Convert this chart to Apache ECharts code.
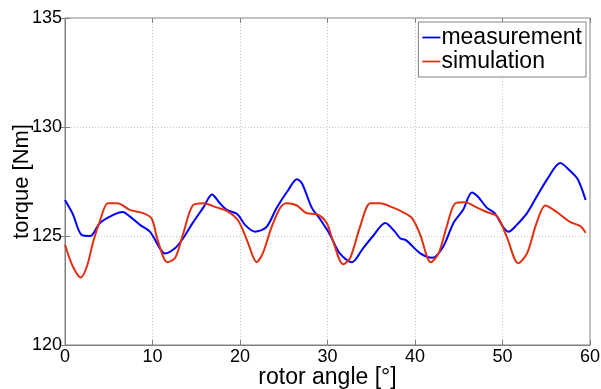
<!DOCTYPE html>
<html>
<head>
<meta charset="utf-8">
<script src="https://cdn.jsdelivr.net/npm/echarts@6/dist/echarts.min.js"></script>
<style>
  html, body {margin: 0; padding: 0; background: #fff;}
  #chart {width: 601px; height: 389px;}
</style>
</head>
<body>
<div id="chart"></div>
<script>
// rotor angle [deg] and torque [Nm]
const measAngle = [0, 0.9, 1.9, 2.9, 4, 5.7, 6.6, 7.4, 8.6, 9.7, 10.9, 11.4, 12.6, 13.5, 14.6, 15.8, 16.8, 17.7, 18.5, 19.7,
  20.6, 21.7, 23, 24.2, 25.5, 26.5, 27.1, 28.2, 29.1, 30.3, 31.4, 32.8, 34, 35.2, 36.6, 37.7, 38.3, 39, 40.6, 42,
  43.2, 44.4, 45.5, 46.5, 47.2, 48.2, 49.1, 50.1, 50.7, 51.6, 52.8, 53.9, 55.1, 56.6, 57.7, 58.6, 59.5];
const measTorque = [126.65, 126.0, 125.05, 125.0, 125.6, 126.0, 126.1, 125.9, 125.5, 125.2, 124.4, 124.2, 124.45, 124.9, 125.6, 126.3, 126.9, 126.5, 126.2, 126.0,
  125.5, 125.2, 125.4, 126.3, 127.1, 127.6, 127.4, 126.3, 125.8, 125.05, 124.2, 123.8, 124.4, 125.0, 125.6, 125.2, 124.9, 124.8, 124.2, 124.0,
  124.5, 125.6, 126.2, 127.0, 126.8, 126.3, 126.05, 125.4, 125.2, 125.5, 126.05, 126.8, 127.6, 128.35, 128.0, 127.6, 126.65];

const simAngle = [0, 0.9, 1.8, 2.5, 3.2, 4, 4.9, 6, 7.4, 8.9, 9.9, 10.6, 11.7, 12.6, 13.5, 14.6, 15.8, 17.4, 18.5, 19.8,
  20.9, 21.9, 22.6, 23.6, 24.6, 25.3, 26.5, 27.6, 28.8, 29.9, 30.6, 31.8, 32.6, 33.7, 34.9, 36, 37.5, 38.6, 39.7,
  40.6, 41.8, 42.7, 43.6, 44.6, 45.7, 47.1, 48.2, 49.4, 50.5, 51.8, 52.8, 53.9, 54.9, 56.2, 57.7, 58.9, 59.5];
const simTorque = [124.6, 123.6, 123.1, 123.6, 124.7, 125.7, 126.5, 126.5, 126.2, 126.05, 125.8, 124.8, 123.8, 124.0, 125.1, 126.4, 126.5, 126.3, 126.15, 125.7,
  124.7, 123.8, 124.2, 125.4, 126.3, 126.5, 126.4, 126.05, 126.0, 125.6, 124.8, 123.7, 124.0, 125.4, 126.5, 126.5, 126.3, 126.1, 125.8,
  125.05, 123.8, 124.2, 125.4, 126.5, 126.55, 126.3, 126.1, 125.9, 124.95, 123.75, 124.2, 125.6, 126.4, 126.1, 125.65, 125.45, 125.15];

const font = 'Liberation Sans, Arial, sans-serif';
const axisGray = '#808080';

const pairs = (xs, ys) => xs.map((x, i) => [x, ys[i]]);

const chart = echarts.init(document.getElementById('chart'));
chart.setOption({
  animation: false,
  grid: {
    left: 65, right: 11, top: 18, bottom: 44,
    containLabel: false, outerBoundsMode: 'none',
    show: true, borderColor: axisGray, borderWidth: 1
  },
  legend: {
    orient: 'vertical',
    right: 15, top: 22,
    padding: [4, 4, 4, 4],
    itemGap: 1,
    itemWidth: 18,
    borderColor: axisGray,
    borderWidth: 1,
    borderRadius: 0,
    backgroundColor: '#fff',
    icon: 'path://M0,0 L20,0 L20,2 L0,2 Z',
    itemHeight: 2,
    textStyle: {fontFamily: font, fontSize: 23, color: '#000', padding: [0, 0, 0, -4]},
    data: ['measurement', 'simulation']
  },
  xAxis: [{
    type: 'value', min: 0, max: 60, interval: 10,
    name: 'rotor angle [°]', nameLocation: 'middle', nameGap: 21, nameMoveOverlap: false,
    nameTextStyle: {fontFamily: font, fontSize: 23, color: '#000'},
    axisLine: {lineStyle: {color: axisGray}},
    axisTick: {inside: true, length: 5, lineStyle: {color: axisGray}},
    axisLabel: {fontFamily: font, fontSize: 18, color: '#000', margin: 3},
    splitLine: {show: true, lineStyle: {color: '#c8c8c8', type: [1, 2]}}
  }, {
    type: 'value', min: 0, max: 60, interval: 10, position: 'top',
    axisLine: {show: false},
    axisTick: {inside: true, length: 5, lineStyle: {color: axisGray}},
    axisLabel: {show: false}, splitLine: {show: false}
  }],
  yAxis: [{
    type: 'value', min: 120, max: 135, interval: 5,
    name: 'torque [Nm]', nameLocation: 'middle', nameGap: 32, nameMoveOverlap: false,
    nameTextStyle: {fontFamily: font, fontSize: 22, color: '#000'},
    axisLine: {show: true, lineStyle: {color: axisGray}},
    axisTick: {show: true, inside: true, length: 5, lineStyle: {color: axisGray}},
    axisLabel: {fontFamily: font, fontSize: 18, color: '#000', margin: 3},
    splitLine: {show: true, lineStyle: {color: '#c8c8c8', type: [1, 2]}}
  }, {
    type: 'value', min: 120, max: 135, interval: 5, position: 'right',
    axisLine: {show: false},
    axisTick: {show: true, inside: true, length: 5, lineStyle: {color: axisGray}},
    axisLabel: {show: false}, splitLine: {show: false}
  }],
  series: [{
    name: 'measurement',
    type: 'line',
    data: pairs(measAngle, measTorque),
    showSymbol: false,
    smooth: 0.3,
    color: '#0000ff',
    lineStyle: {width: 2, color: '#0000ff'}
  }, {
    name: 'simulation',
    type: 'line',
    data: pairs(simAngle, simTorque),
    showSymbol: false,
    smooth: 0.3,
    color: '#e03010',
    lineStyle: {width: 2, color: '#e03010'}
  }]
});
</script>
</body>
</html>
